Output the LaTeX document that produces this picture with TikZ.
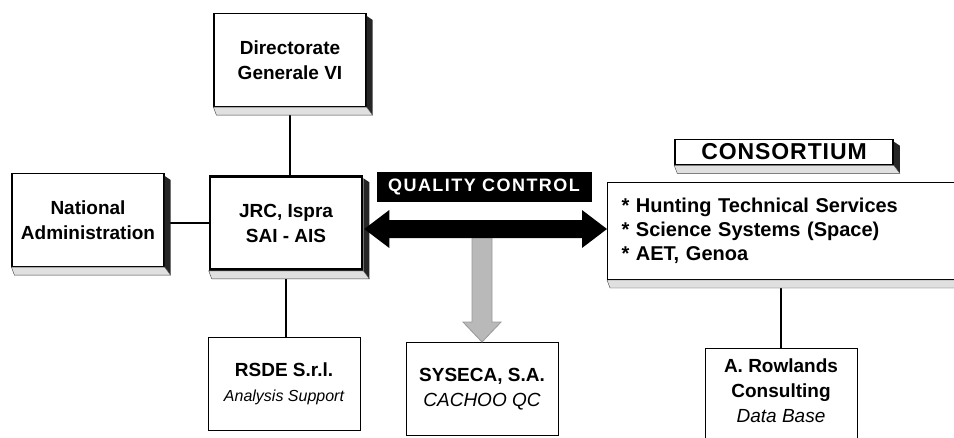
\documentclass[tikz,border=0pt]{standalone}
\usepackage{fontspec}
\setmainfont{Liberation Sans}
\newfontfamily\qcfont[LetterSpace=8]{Liberation Sans}
\newfontfamily\consfont[LetterSpace=4]{Liberation Sans}
\usetikzlibrary{positioning,calc,backgrounds}

% raised edge under and right of a box
\newcommand\slab[1]{%
  \fill[black!85] ($(#1.north east)+(0,3)$) -- ++(6,4) -- ($(#1.south east)+(6,8)$) -- (#1.south east) -- cycle;
  \filldraw[fill=black!12,draw=black!75,thin] (#1.south west) -- ($(#1.south west)+(3,8)$)
    -- ($(#1.south east)+(6,8)$) -- (#1.south east) -- cycle;}

\begin{document}
\begin{tikzpicture}[x=1pt,y=-1pt,
    unit box/.style={draw,line width=1.2pt,fill=white,align=center,
      font=\bfseries\fontsize{19}{25}\selectfont,
      minimum width=152pt,minimum height=93pt,inner sep=2pt},
    heavy box/.style={unit box,line width=2.6pt},
    plain box/.style={unit box,line width=0.9pt},
    link/.style={line width=1.6pt}]
  \useasboundingbox (0,0) rectangle (954,437);
  \clip (0,0) rectangle (954,437);

  %boxes%
  \node[unit box] (dg) at (290,60) {Directorate\\Generale VI};
  \node[unit box] (na) at (88,220) {National\\Administration};
  \node[heavy box] (jrc) at (286,223) {JRC, Ispra\\SAI - AIS};
  \node[plain box] (rsde) at (284,384)
    {RSDE S.r.l.\\{\mdseries\itshape\fontsize{16}{20}\selectfont Analysis Support}};
  \node[plain box] (sy) at (482,389) {SYSECA, S.A.\\{\mdseries\itshape CACHOO QC}};
  \node[plain box,anchor=north,minimum height=119pt] (row) at (781,348)
    {A. Rowlands\\Consulting\\{\mdseries\itshape Data Base}\\[10pt]\mbox{}};
  %consortium%
  \node[unit box,line width=1pt,anchor=west,minimum height=97pt,align=left,
    text width=340pt,inner xsep=14pt,font=\bfseries\fontsize{20}{24}\selectfont]
    (cons) at (607,231) {* Hunting Technical Services\\{}* Science Systems (Space)\\{}* AET, Genoa};
  \node[unit box,line width=1.6pt,minimum width=218pt,minimum height=25pt,
    font=\consfont\bfseries\fontsize{23}{25}\selectfont] (clab) at (784,152) {CONSORTIUM};
  \node[fill=black,text=white,minimum width=215pt,minimum height=30pt,
    font=\qcfont\bfseries\fontsize{18}{20}\selectfont] (qc) at (484,187) {QUALITY CONTROL};

  \foreach \b in {dg,na,jrc,cons,clab} {\slab{\b}}

  \begin{scope}[on background layer]
    \draw[link] (dg.south) -- (dg.south |- jrc.north);
    \draw[link] (jrc.west) -- (jrc.west -| na.east);
    \draw[link] (jrc.south) -- (jrc.south |- rsde.north);
    \draw[link] (row.north) -- (row.north |- cons.south);
  \end{scope}

  %arrows%
  \coordinate (qa) at ($(jrc.east)+(1,6)$);
  \coordinate (qb) at (cons.west |- qa);
  \coordinate (gt) at (sy.north |- qa);
  \filldraw[fill=gray!55,draw=gray!80,thick] ($(gt)+(-10,0)$) -- ($(sy.north)+(-10,-20)$) -- ++(-9,0)
    -- (sy.north) -- ++(19,-20) -- ++(-9,0) -- ($(gt)+(10,0)$) -- cycle;
  \fill (qa) -- ++(25,-19) -- ++(0,10) -- ($(qb)+(-25,-9)$) -- ++(0,-10) -- (qb)
    -- ++(-25,19) -- ++(0,-10) -- ($(qa)+(25,9)$) -- ++(0,10) -- cycle;
\end{tikzpicture}
\end{document}
